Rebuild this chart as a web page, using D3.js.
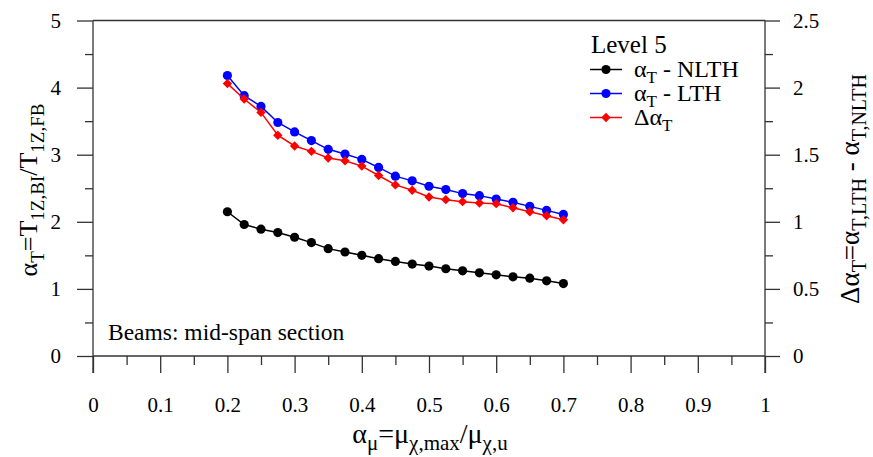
<!DOCTYPE html>
<html><head><meta charset="utf-8">
<script src="https://cdn.jsdelivr.net/npm/d3@7"></script>
</head><body style="margin:0">
<svg id="c" width="873" height="457"></svg>
<script>
// ---- data ----
const xValues = [0.2,0.225,0.25,0.275,0.3,0.325,0.35,0.375,0.4,0.425,0.45,0.475,0.5,0.525,0.55,0.575,0.6,0.625,0.65,0.675,0.7];
const alphaNLTH = [2.15,1.96,1.89,1.84,1.77,1.69,1.60,1.55,1.50,1.45,1.41,1.37,1.34,1.30,1.27,1.24,1.21,1.18,1.16,1.12,1.08];
const alphaLTH  = [4.18,3.88,3.72,3.48,3.34,3.21,3.08,3.01,2.93,2.81,2.68,2.61,2.53,2.48,2.42,2.39,2.34,2.29,2.23,2.17,2.11];
const deltaAlpha = [2.03,1.915,1.815,1.645,1.565,1.525,1.475,1.455,1.415,1.345,1.275,1.235,1.185,1.165,1.15,1.14,1.135,1.105,1.075,1.045,1.015];
const xTicks = [0,0.1,0.2,0.3,0.4,0.5,0.6,0.7,0.8,0.9,1];
const xMinorTicks = [0.05,0.15,0.25,0.35,0.45,0.55,0.65,0.75,0.85,0.95];
const yLeftTicks = [0,1,2,3,4,5];
const yLeftMinor = [0.5,1.5,2.5,3.5,4.5];
const yRightTicks = [0,0.5,1,1.5,2,2.5];
const yRightMinor = [0.25,0.75,1.25,1.75,2.25];

const FONT = "Liberation Serif";
const svg = d3.select("#c");
const X0=93, X1=765, Y0=356, Y1=20.5;
const x = d3.scaleLinear().domain([0,1]).range([X0,X1]);
const yL = d3.scaleLinear().domain([0,5]).range([Y0,Y1]);
const yR = d3.scaleLinear().domain([0,2.5]).range([Y0,Y1]);
const axisColor = "#333";
const tickFont = 21;

function setFont(sel){ return sel.attr("font-family","'Liberation Serif'").style("font-family",FONT); }

function styleAxis(g){
  g.attr("font-family",null);
  g.select(".domain").remove();
  g.selectAll(".tick line").attr("stroke",axisColor).attr("stroke-width",1.3);
  setFont(g.selectAll(".tick text").attr("font-size",tickFont).attr("fill","#000"));
}
// frame
const frame = svg.append("g").attr("stroke",axisColor).attr("stroke-width",1.3).attr("fill","none");
frame.append("line").attr("x1",X0).attr("x2",X1).attr("y1",Y1).attr("y2",Y1);
frame.append("line").attr("x1",X0).attr("x2",X1).attr("y1",Y0).attr("y2",Y0);
frame.append("line").attr("x1",X0).attr("x2",X0).attr("y1",Y1).attr("y2",Y0+17);
frame.append("line").attr("x1",X1).attr("x2",X1).attr("y1",Y1).attr("y2",Y0+17);

// axes
svg.append("g").attr("transform",`translate(0,${Y0})`)
  .call(d3.axisBottom(x).tickValues(xTicks).tickSize(17).tickPadding(24).tickFormat(d3.format("")))
  .call(styleAxis);
svg.append("g").attr("transform",`translate(0,${Y0})`)
  .call(d3.axisBottom(x).tickValues(xMinorTicks).tickSize(9).tickFormat(""))
  .call(styleAxis);
svg.append("g").attr("transform",`translate(${X0},0)`)
  .call(d3.axisLeft(yL).tickValues(yLeftTicks).tickSize(16).tickPadding(16).tickFormat(d3.format("")))
  .call(styleAxis);
svg.append("g").attr("transform",`translate(${X0},0)`)
  .call(d3.axisLeft(yL).tickValues(yLeftMinor).tickSize(8).tickFormat(""))
  .call(styleAxis);
svg.append("g").attr("transform",`translate(${X1},0)`)
  .call(d3.axisRight(yR).tickValues(yRightTicks).tickSize(15).tickPadding(13).tickFormat(d3.format("")))
  .call(styleAxis);
svg.append("g").attr("transform",`translate(${X1},0)`)
  .call(d3.axisRight(yR).tickValues(yRightMinor).tickSize(8).tickFormat(""))
  .call(styleAxis);

// series
const series = [
  {name:"NLTH", vals:alphaNLTH, y:yL, color:"#000000", sym:"circle"},
  {name:"LTH", vals:alphaLTH, y:yL, color:"#0000ff", sym:"circle"},
  {name:"delta", vals:deltaAlpha, y:yR, color:"#ff0000", sym:"diamond"}
];
const diamond = d3.symbol().type(d3.symbolDiamond2).size(56);
series.forEach(s=>{
  const pts = xValues.map((xv,i)=>[xv,s.vals[i]]);
  svg.append("path").datum(pts)
    .attr("fill","none").attr("stroke",s.color).attr("stroke-width",1.5)
    .attr("d",d3.line().x(d=>x(d[0])).y(d=>s.y(d[1])));
  const g = svg.append("g");
  if(s.sym==="circle"){
    g.selectAll("circle").data(pts).join("circle")
      .attr("cx",d=>x(d[0])).attr("cy",d=>s.y(d[1])).attr("r",4.6).attr("fill",s.color);
  } else {
    g.selectAll("path").data(pts).join("path")
      .attr("transform",d=>`translate(${x(d[0])},${s.y(d[1])})`).attr("d",diamond).attr("fill",s.color);
  }
});

function richText(sel, parts, size, subSize){
  setFont(sel).attr("fill","#000");
  let prevSub=false;
  parts.forEach(([t,sub])=>{
    const ts = setFont(sel.append("tspan").text(t).attr("font-size", sub?subSize:size));
    if(sub && !prevSub) ts.attr("dy", size*0.26);
    if(!sub && prevSub) ts.attr("dy", -size*0.26);
    prevSub=sub;
  });
  return sel;
}

// axis titles
richText(svg.append("text").attr("transform","translate(37,190) rotate(-90)").attr("text-anchor","middle"),
  [["α",0],["T",1],["=T",0],["1Z,BI",1],["/T",0],["1Z,FB",1]], 26, 19);
richText(svg.append("text").attr("transform","translate(859,189) rotate(-90)").attr("text-anchor","middle"),
  [["Δα",0],["T",1],["=α",0],["T,LTH",1],[" - α",0],["T,NLTH",1]], 27, 20);
richText(svg.append("text").attr("x",430).attr("y",443).attr("text-anchor","middle"),
  [["α",0],["μ",1],["=μ",0],["χ,max",1],["/μ",0],["χ,u",1]], 28, 21);

// annotation
setFont(svg.append("text").attr("x",108).attr("y",340).attr("font-size",23.5).attr("fill","#000")).text("Beams: mid-span section");

// legend
const leg = svg.append("g");
setFont(leg.append("text").attr("x",591).attr("y",53).attr("font-size",25).attr("fill","#000")).text("Level 5");
const legRows = [69.5,93.5,117.5];
const legLabels = [[["α",0],["T",1],[" - NLTH",0]],[["α",0],["T",1],[" - LTH",0]],[["Δα",0],["T",1]]];
series.forEach((s,i)=>{
  const yy = legRows[i];
  leg.append("line").attr("x1",590).attr("x2",622).attr("y1",yy).attr("y2",yy).attr("stroke",s.color).attr("stroke-width",1.5);
  if(s.sym==="circle") leg.append("circle").attr("cx",606).attr("cy",yy).attr("r",4.6).attr("fill",s.color);
  else leg.append("path").attr("transform",`translate(606,${yy})`).attr("d",diamond).attr("fill",s.color);
  richText(leg.append("text").attr("x",634).attr("y",yy+7), legLabels[i], 24, 17);
});
</script>
</body></html>
